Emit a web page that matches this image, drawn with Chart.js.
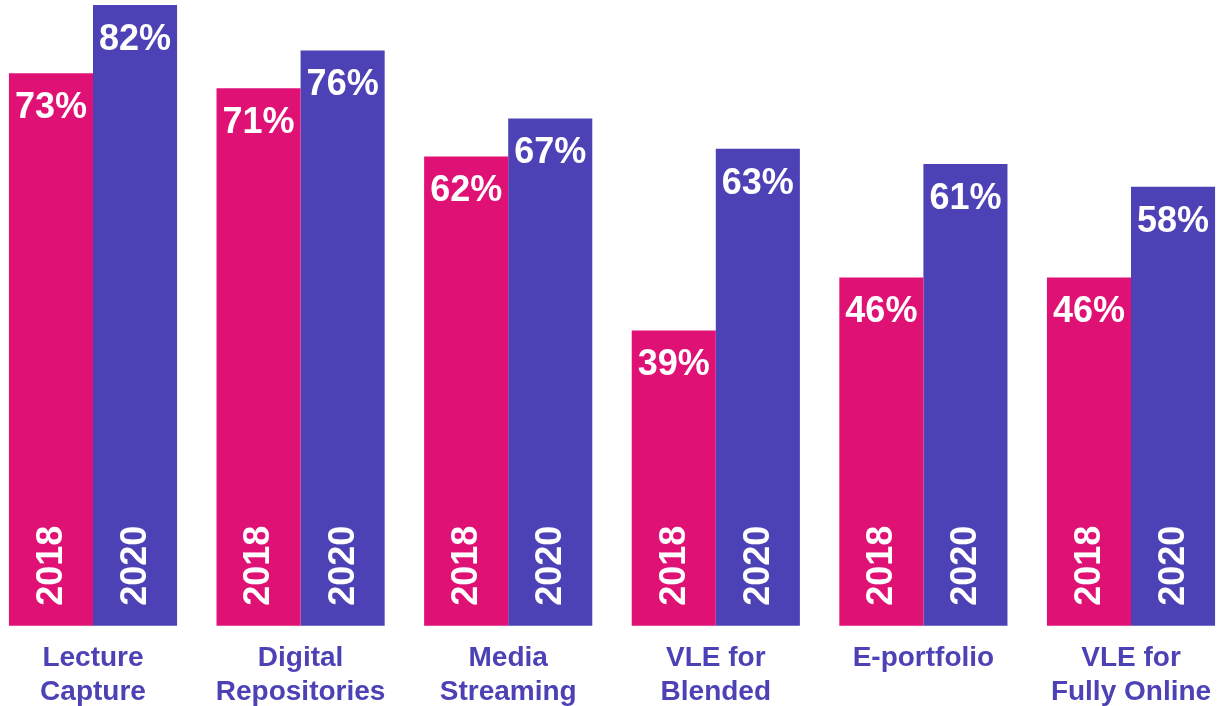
<!DOCTYPE html>
<html lang="en">
<head>
<meta charset="UTF-8">
<title>Technology use 2018 vs 2020</title>
<script src="https://cdn.jsdelivr.net/npm/chart.js@4.4.1/dist/chart.umd.min.js"></script>
<style>
  html, body { margin: 0; padding: 0; background: #fff; }
  #wrap { width: 1217px; height: 706px; position: relative; }
</style>
</head>
<body>
<div id="wrap"><canvas id="chart"></canvas></div>
<script>
// data
const categories = [
    ['Lecture', 'Capture'],
    ['Digital', 'Repositories'],
    ['Media', 'Streaming'],
    ['VLE for', 'Blended'],
    ['E-portfolio'],
    ['VLE for', 'Fully Online']
];
const years = ['2018', '2020'];
const values2018 = [73, 71, 62, 39, 46, 46];
const values2020 = [82, 76, 67, 63, 61, 58];

const PINK = '#DF1174';
const PURPLE = '#4C42B5';
const FONT = '"Liberation Sans", Arial, sans-serif';

// draws the value on top and the year at the bottom of each bar
const barText = {
    id: 'barText',
    afterDatasetsDraw(chart) {
        const ctx = chart.ctx;
        const bottom = chart.scales.y.getPixelForValue(0);
        ctx.save();
        ctx.fillStyle = '#fff';
        ctx.font = 'bold 36px ' + FONT;
        chart.data.datasets.forEach((ds, i) => {
            const meta = chart.getDatasetMeta(i);
            meta.data.forEach((bar, j) => {
                ctx.textAlign = 'center';
                ctx.textBaseline = 'middle';
                ctx.fillText(ds.data[j] + '%', bar.x, bar.y + 35);

                ctx.save();
                ctx.translate(bar.x, bottom - 20);
                ctx.rotate(-Math.PI / 2);
                ctx.textAlign = 'left';
                ctx.textBaseline = 'middle';
                ctx.fillText(ds.label, 0, 1);
                ctx.restore();
            });
        });
        ctx.restore();
    }
};

new Chart(document.getElementById('chart'), {
    type: 'bar',
    data: {
        labels: categories,
        datasets: [
            { label: years[0], data: values2018, backgroundColor: PINK },
            { label: years[1], data: values2020, backgroundColor: PURPLE }
        ]
    },
    options: {
        responsive: true,
        maintainAspectRatio: false,
        animation: false,
        layout: { padding: { left: 93, right: 86, top: 0, bottom: -3 } },
        datasets: { bar: { barPercentage: 1.0, categoryPercentage: 0.81, clip: false } },
        plugins: {
            legend: { display: false },
            tooltip: { enabled: false }
        },
        scales: {
            x: {
                offset: false,
                grid: { display: false, drawTicks: true, tickLength: 16 },
                border: { display: false },
                ticks: {
                    autoSkip: false,
                    maxRotation: 0,
                    padding: 0,
                    color: PURPLE,
                    font: { family: FONT, size: 28, weight: 'bold', lineHeight: 1.2 }
                }
            },
            y: {
                display: false,
                min: 0,
                max: 82.66
            }
        }
    },
    plugins: [barText]
});
</script>
</body>
</html>
